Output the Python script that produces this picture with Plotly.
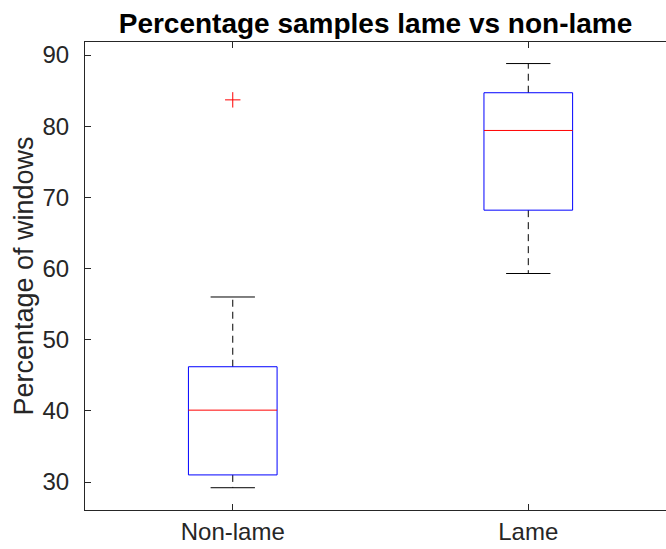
import plotly.graph_objects as go

# Summary statistics for each group (percentage of windows)
groups = ["Non-lame", "Lame"]
positions = [1, 2]
q1 = [31.0, 68.2]
medians = [40.1, 79.4]
q3 = [46.2, 84.7]
lower_whisker = [29.2, 59.3]
upper_whisker = [56.0, 88.8]
outliers = [[83.7], []]
y_ticks = [30, 40, 50, 60, 70, 80, 90]

BOX_W = 0.3
CAP_W = 0.15
TXT = "#262626"
FONT = "Liberation Sans, Arial, sans-serif"

fig = go.Figure()

for i, p in enumerate(positions):
    lo, hi = p - BOX_W / 2, p + BOX_W / 2
    # dashed whiskers
    fig.add_trace(go.Scatter(
        x=[p, p, None, p, p],
        y=[q3[i], upper_whisker[i], None, q1[i], lower_whisker[i]],
        mode="lines", line=dict(color="#000000", width=1, dash="7px,5px"),
        hoverinfo="skip", showlegend=False,
    ))
    # whisker caps
    fig.add_trace(go.Scatter(
        x=[p - CAP_W / 2, p + CAP_W / 2, None, p - CAP_W / 2, p + CAP_W / 2],
        y=[upper_whisker[i], upper_whisker[i], None, lower_whisker[i], lower_whisker[i]],
        mode="lines", line=dict(color="#000000", width=1),
        hoverinfo="skip", showlegend=False,
    ))
    # interquartile box
    fig.add_trace(go.Scatter(
        x=[lo, hi, hi, lo, lo],
        y=[q1[i], q1[i], q3[i], q3[i], q1[i]],
        mode="lines", line=dict(color="#0000FF", width=1),
        hoverinfo="skip", showlegend=False,
    ))
    # median line
    fig.add_trace(go.Scatter(
        x=[lo, hi], y=[medians[i], medians[i]],
        mode="lines", line=dict(color="#FF0000", width=1),
        hoverinfo="skip", showlegend=False,
    ))
    # outliers
    if outliers[i]:
        fig.add_trace(go.Scatter(
            x=[p] * len(outliers[i]), y=outliers[i], mode="markers",
            marker=dict(symbol="cross-thin", size=11,
                        line=dict(color="#FF0000", width=1)),
            hoverinfo="skip", showlegend=False,
        ))

fig.update_layout(
    width=666, height=549,
    margin=dict(l=85, r=0, t=42, b=39),
    paper_bgcolor="white", plot_bgcolor="white",
    font=dict(family=FONT, color=TXT),
    title=dict(
        text="<b>Percentage samples lame vs non-lame</b>",
        font=dict(size=28, color="#000000", family=FONT),
        x=0.5, xanchor="center", xref="paper",
        y=1 - 23 / 549, yanchor="middle", yref="container",
    ),
    xaxis=dict(
        range=[0.5, 2.466], tickvals=positions, ticktext=groups,
        showline=True, linecolor=TXT, linewidth=1, mirror="ticks",
        ticks="inside", ticklen=6, tickcolor=TXT,
        showgrid=False, zeroline=False,
        tickfont=dict(size=24, color=TXT, family=FONT),
    ),
    yaxis=dict(
        range=[26.07, 91.83], tickvals=y_ticks,
        showline=True, linecolor=TXT, linewidth=1, mirror=False,
        ticks="inside", ticklen=6, tickcolor=TXT,
        showgrid=False, zeroline=False, ticklabelstandoff=10,
        tickfont=dict(size=24, color=TXT, family=FONT),
        title=dict(text="Percentage of windows",
                   font=dict(size=27, color=TXT, family=FONT), standoff=1),
    ),
)

fig.write_html("out.html")
